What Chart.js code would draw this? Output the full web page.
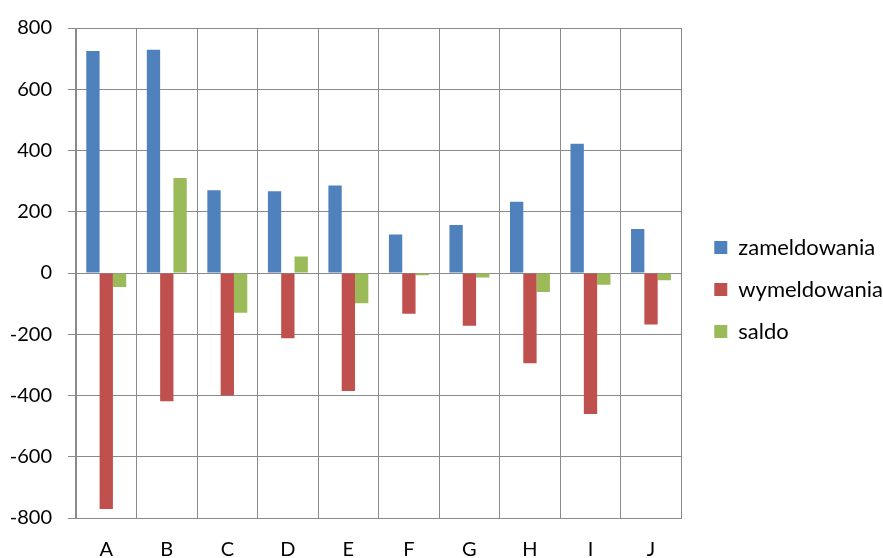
<!DOCTYPE html>
<html><head><meta charset="utf-8">
<script src="https://cdn.jsdelivr.net/npm/chart.js@4"></script>
<style>html,body{margin:0;padding:0;background:#fff;overflow:hidden}#wrap{width:883px;height:558px}</style>
</head><body><div id="wrap"><canvas id="c" width="883" height="558"></canvas></div>
<script>
const categories = ['A','B','C','D','E','F','G','H','I','J'];
const zameldowania = [725, 729, 270, 267, 286, 126, 157, 233, 422, 144];
const wymeldowania = [-771, -419, -400, -213, -385, -133, -172, -295, -460, -168];
const saldo = [-46, 310, -130, 54, -99, -7, -15, -62, -38, -24];
const yMin = -800, yMax = 800, yStep = 200;
const seriesNames = ['zameldowania', 'wymeldowania', 'saldo'];
const seriesColors = ['#4F81BD', '#C0504D', '#9BBB59'];

const FONT = 'Lato';
const FS = 20;
const LFS = 22;
const gridColor = '#8a8a8a';

new Chart(document.getElementById('c'), {
  type: 'bar',
  data: {
    labels: categories,
    datasets: [zameldowania, wymeldowania, saldo].map((d, i) => ({
      label: seriesNames[i],
      data: d,
      backgroundColor: seriesColors[i],
      borderWidth: 0,
      categoryPercentage: 0.66,
      barPercentage: 1.0
    }))
  },
  options: {
    responsive: false,
    animation: false,
    devicePixelRatio: 1,
    layout: { padding: { top: 21, right: -10, bottom: 0, left: 0 } },
    plugins: {
      tooltip: { enabled: false },
      legend: {
        position: 'right',
        align: 'center',
        maxWidth: 300,
        labels: {
          boxWidth: 13, boxHeight: 13, padding: 20,
          color: '#000',
          font: { family: FONT, size: LFS }
        }
      }
    },
    scales: {
      x: {
        grid: { color: gridColor, lineWidth: 1, offset: true, drawTicks: false },
        border: { color: gridColor },
        ticks: { color: '#000', font: { family: FONT, size: FS }, padding: 20 },
        afterFit: s => { s.height = 40; }
      },
      y: {
        min: yMin, max: yMax,
        grid: { color: gridColor, lineWidth: 1, drawTicks: true, tickLength: 8, tickColor: gridColor },
        border: { color: gridColor },
        ticks: { stepSize: yStep, color: '#000', font: { family: FONT, size: FS }, padding: 16 },
        afterFit: s => { s.width = 76; }
      },
      gap: {
        type: 'linear', position: 'right', display: true,
        grid: { display: false, drawTicks: false }, border: { display: false },
        ticks: { display: false },
        afterFit: s => { s.width = 13; }
      }
    }
  }
});
</script></body></html>
